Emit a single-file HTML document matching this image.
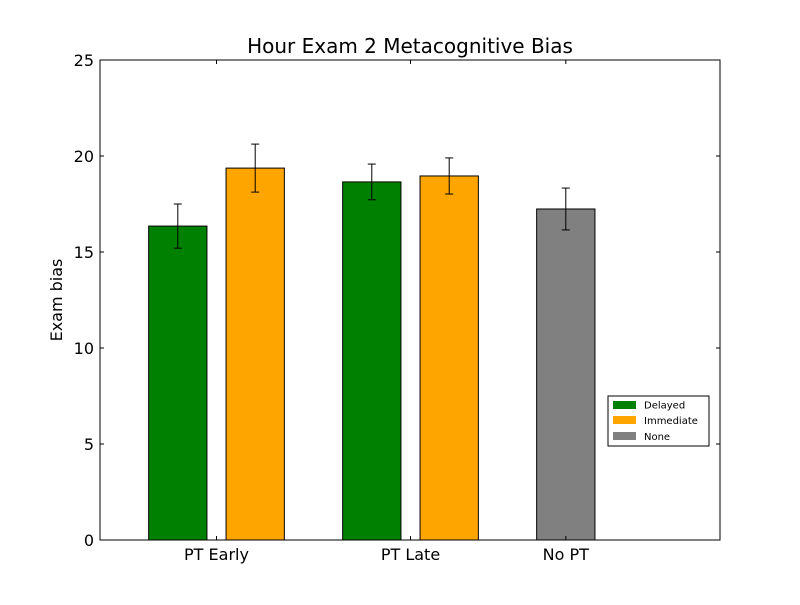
<!DOCTYPE html>
<html><head><meta charset="utf-8"><style>
body{margin:0;background:#fff;}
svg text{font-family:"DejaVu Sans","Liberation Sans",sans-serif;}
</style></head><body>
<svg id="chart" width="800" height="600" xmlns="http://www.w3.org/2000/svg">
<rect x="0" y="0" width="800" height="600" fill="#fff"/>
<g id="bars"></g>
<rect x="100" y="60" width="620" height="480" fill="none" stroke="#000" stroke-width="1"/>
<g id="axes"></g>
<text x="410" y="53" text-anchor="middle" font-size="20">Hour Exam 2 Metacognitive Bias</text>
<text x="62" y="300" text-anchor="middle" font-size="16" transform="rotate(-90 62 300)">Exam bias</text>
<g>
<rect x="608" y="396" width="101" height="50" fill="#fff" stroke="#000"/>
<g><rect x="613" y="401" width="23" height="8" fill="#008000"/><text x="644" y="408.5" font-size="10">Delayed</text></g>
<g><rect x="613" y="416" width="23" height="8" fill="#ffa500"/><text x="644" y="424" font-size="10">Immediate</text></g>
<g><rect x="613" y="432" width="23" height="8" fill="#808080"/><text x="644" y="440" font-size="10">None</text></g>
</g>
</svg>
<script>
const categories = ["PT Early", "PT Late", "No PT"];
const delayed = [16.35, 18.65, 17.24];
const delayedErr = [1.15, 0.93, 1.09];
const immediate = [19.37, 18.96, 0];
const immediateErr = [1.25, 0.94, 0];
const yTicks = [0, 5, 10, 15, 20, 25];

const NS = "http://www.w3.org/2000/svg";
const y = v => 540 - v * 19.2;
const groupCenter = i => 216.5 + i * 194;
const bw = 58.3, off = 38.7;
const bars = document.getElementById('bars');
const axes = document.getElementById('axes');
function mk(tag, attrs, parent){const e=document.createElementNS(NS,tag);for(const k in attrs)e.setAttribute(k,attrs[k]);parent.appendChild(e);return e;}
function errBar(cx, v, e, name){
  const g = mk('g', {}, bars);
  
  
  mk('line',{x1:cx,x2:cx,y1:y(v+e),y2:y(v-e),stroke:'#000'},g);
  mk('line',{x1:cx-4,x2:cx+4,y1:y(v+e),y2:y(v+e),stroke:'#000'},g);
  mk('line',{x1:cx-4,x2:cx+4,y1:y(v-e),y2:y(v-e),stroke:'#000'},g);
}
categories.forEach((c, i) => {
  const gc = groupCenter(i);
  const isNone = i === categories.length - 1;
  const x1 = gc - off - bw/2;
  const r1 = mk('rect',{x:x1,y:y(delayed[i]),width:bw,height:y(0)-y(delayed[i]),fill:isNone?'#808080':'#008000',stroke:'#000'},bars);
  
  
  errBar(gc - off, delayed[i], delayedErr[i], 'error-bar-delayed-' + i);
  const x2 = gc + off - bw/2;
  const r2 = mk('rect',{x:x2,y:y(immediate[i]),width:bw,height:Math.max(0,y(0)-y(immediate[i])),fill:'#ffa500',stroke:'#000'},bars);
  
  
  if (immediate[i] > 0) errBar(gc + off, immediate[i], immediateErr[i], 'error-bar-immediate-' + i);
  const tx = isNone ? gc - off : gc;
  mk('line',{x1:tx,x2:tx,y1:540,y2:536,stroke:'#000'},axes);
  mk('line',{x1:tx,x2:tx,y1:60,y2:64,stroke:'#000'},axes);
  const t = mk('text',{x:tx,y:560,'text-anchor':'middle','font-size':16},axes);
  t.textContent = c;
  
  
});
yTicks.forEach(v => {
  mk('line',{x1:100,x2:104,y1:y(v),y2:y(v),stroke:'#000'},axes);
  mk('line',{x1:720,x2:716,y1:y(v),y2:y(v),stroke:'#000'},axes);
  const t = mk('text',{x:94,y:y(v)+6,'text-anchor':'end','font-size':16},axes);
  t.textContent = v;
  
  
});
</script>
</body></html>
